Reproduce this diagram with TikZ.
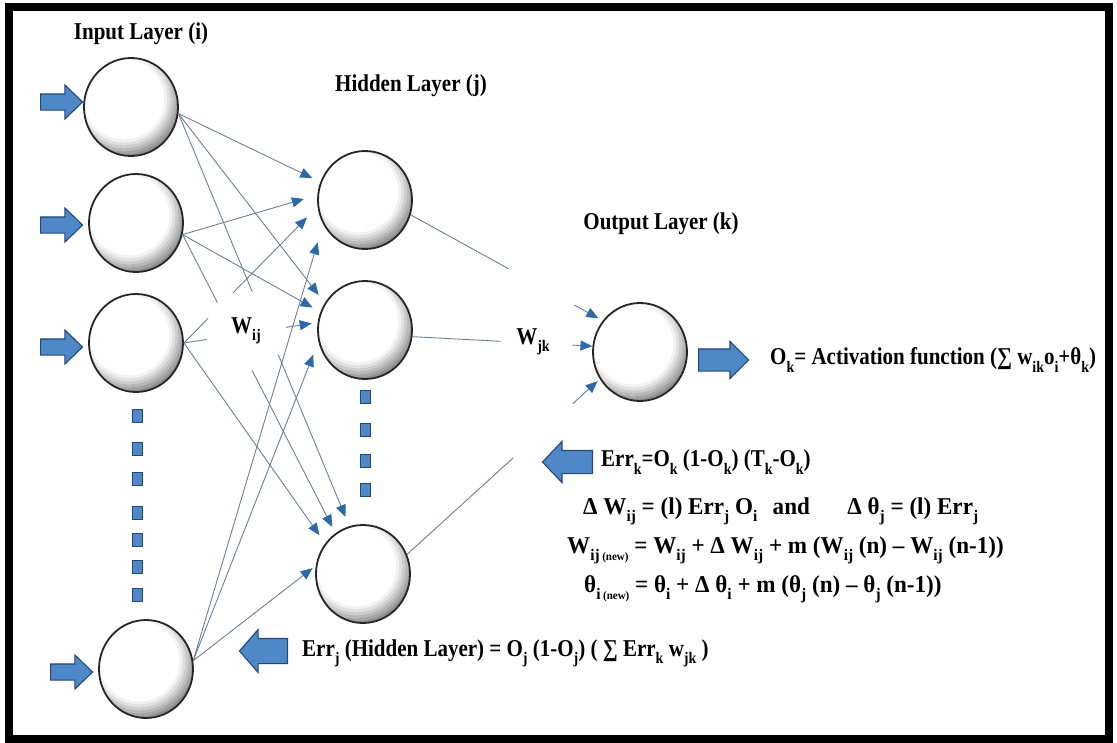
\documentclass[tikz,border=0pt]{standalone}
\usepackage{fontspec}
\setmainfont{Liberation Serif}
\usepackage{graphicx}
\usetikzlibrary{shapes.arrows,shapes.geometric,arrows.meta,calc}

\definecolor{wirec}{RGB}{105,128,152}
\definecolor{tipc}{RGB}{45,105,170}
\definecolor{blkc}{RGB}{78,136,200}
\definecolor{blkedge}{RGB}{35,72,120}

\newcommand{\tx}[1]{\scalebox{1}[1.15]{#1}}
\newcommand{\txw}[1]{\scalebox{1.1}[1.15]{#1}}
\newcommand{\dn}[1]{\raisebox{-0.3em}{\fontsize{14}{14}\selectfont #1}}
\newcommand{\nw}{{\fontsize{10}{10}\selectfont (new)}}

\begin{document}
\begin{tikzpicture}[x=1pt,y=-1pt,
  neuron/.style={ellipse, minimum width=94pt, minimum height=98pt, inner sep=0pt,
    fill=white, draw=black!85, line width=1.8pt,
    path picture={
      \foreach \r/\c in {42/5,45/12,48/20,51/28,54/36,57/44,60/50}
        \draw[black!\c, line width=3.3pt]
          ([shift={(-7pt,8pt)}]path picture bounding box.center) circle[radius=\r pt];
    }},
  wire/.style={draw=wirec, line width=0.9pt},
  tipped/.style={-{Triangle[length=12pt,width=10pt,color=tipc]}},
  dotsq/.style={rectangle, minimum width=10pt, minimum height=13pt, inner sep=0pt,
    fill=blkc, draw=blkedge, line width=0.9pt},
  barrow/.style={single arrow, single arrow head indent=0pt, inner xsep=0pt,
    fill=blkc, draw=blkedge, line width=1.1pt},
  lab/.style={inner sep=0pt, font=\fontsize{21}{24}\selectfont\bfseries},
  mask/.style={ellipse, fill=white, minimum width=80pt, minimum height=80pt, inner sep=0pt}
]
\fill[white] (0,0) rectangle (1117,742);
\useasboundingbox (0,0) rectangle (1117,742);
\draw[line width=8pt] (9,6.5) rectangle (1109,739);

% neurons
\node[neuron] (i1) at (131,107) {};
\node[neuron] (i2) at (136,223) {};
\node[neuron] (i3) at (136,343) {};
\node[neuron] (i4) at (146,669) {};
\node[neuron] (h1) at (365,200) {};
\node[neuron] (h2) at (365,330) {};
\node[neuron] (h3) at (363,574) {};
\node[neuron] (o)  at (640,352) {};

% input -> hidden
\draw[wire,tipped,shorten >=9pt]  (i1.-8)  -- (h1.158);
\draw[wire,tipped,shorten >=14pt] (i2.-14) -- (h1.174);
\draw[wire,tipped,shorten >=15pt] (i3.east) -- (h1.188);
\draw[wire,tipped,shorten >=19pt] (i4.10)  -- (h1.210);
\draw[wire,tipped,shorten >=10pt] (i1.-8)  -- (h2.146);
\draw[wire,tipped,shorten >=9pt]  (i2.-14) -- (h2.158);
\draw[wire,tipped,shorten >=6pt]  (i3.east) -- (h2.171);
\draw[wire,tipped,shorten >=14pt] (i4.10)  -- (h2.194);
\draw[wire,tipped,shorten >=10pt] (i1.-8)  -- (h3.106);
\draw[wire,tipped,shorten >=7pt]  (i2.-14) -- (h3.124);
\draw[wire,tipped,shorten >=10pt] (i3.east) -- (h3.141);
\draw[wire,tipped,shorten >=4pt]  (i4.10)  -- (h3.170);

% W_ij label (its white ground breaks the lines)
\node[mask,lab] (wij) at (246,331) {\tx{W\dn{ij}}};

% hidden -> output (broken lines)
\draw[wire] (h1.-18) -- ($(h1.-18)!0.51!(o.140)$);
\draw[wire,tipped,shorten >=5pt] ($(h1.-18)!0.85!(o.140)$) -- (o.140);
\draw[wire] (h2.-8) -- ($(h2.-8)!0.49!(o.173)$);
\draw[wire,tipped] ($(h2.-8)!0.89!(o.173)$) -- (o.173);
\draw[wire] (h3.24) -- ($(h3.24)!0.55!(o.214)$);
\draw[wire,tipped,shorten >=3pt] ($(h3.24)!0.86!(o.214)$) -- (o.214);

% dotted continuation squares
\foreach \y [count=\k] in {416,449,479,513,540,567,595}
  \node[dotsq] (di\k) at (137,\y) {};
\foreach \y [count=\k] in {397,430,461,490}
  \node[dotsq] (dh\k) at (365.5,\y) {};

% block arrows
\begin{scope}[every node/.style={barrow, minimum height=42pt, inner ysep=7.5pt,
    single arrow head extend=9pt, single arrow tip angle=88, anchor=tail}]
  \node (ai1) at (40,102) {};
  \node (ai2) at (40,225) {};
  \node (ai3) at (40,347) {};
  \node (ai4) at (50,672) {};
\end{scope}
\node[barrow, minimum height=50pt, inner ysep=10.5pt, single arrow head extend=7.5pt,
  single arrow tip angle=90, anchor=tail] (ao) at (698,360) {};
\node[barrow, minimum height=50pt, inner ysep=11pt, single arrow head extend=9pt,
  single arrow tip angle=93, shape border rotate=180, anchor=tail] (aek) at (593,462) {};
\node[barrow, minimum height=48pt, inner ysep=12pt, single arrow head extend=9pt,
  single arrow tip angle=98, shape border rotate=180, anchor=tail] (aej) at (288,651) {};

% labels
\node[lab] (tin)  at (141,34)  {\tx{Input Layer (i)}};
\node[lab] (thid) at (411,86)  {\tx{Hidden Layer (j)}};
\node[lab] (tout) at (661,224) {\tx{Output Layer (k)}};
\node[lab] (wjk)  at (533,342) {\tx{W\dn{jk}}};

\node[lab,anchor=west] (fok) at (770,360)
  {\tx{O\dn{k}= Activation function (∑ w\dn{ik}o\dn{i}+θ\dn{k})}};
\node[lab,anchor=west] (ferrk) at (601,462)
  {\tx{Err\dn{k}=O\dn{k} (1-O\dn{k}) (T\dn{k}-O\dn{k})}};
\node[lab,anchor=west] (fdw) at (583,511)
  {\txw{Δ W\dn{ij} = (l) Err\dn{j} O\dn{i}\hspace{14pt}and\hspace{34pt}Δ θ\dn{j} = (l) Err\dn{j}}};
\node[lab,anchor=west] (fwn) at (567,550)
  {\txw{W\dn{ij\,\nw} = W\dn{ij} + Δ W\dn{ij} + m (W\dn{ij} (n) – W\dn{ij} (n-1))}};
\node[lab,anchor=west] (fth) at (584,589)
  {\txw{θ\dn{i\,\nw} = θ\dn{i} + Δ θ\dn{i} + m (θ\dn{j} (n) – θ\dn{j} (n-1))}};
\node[lab,anchor=west] (ferrj) at (302,653)
  {\tx{Err\dn{j} (Hidden Layer) = O\dn{j} (1-O\dn{j}) ( ∑ Err\dn{k} w\dn{jk} )}};
\end{tikzpicture}
\end{document}
